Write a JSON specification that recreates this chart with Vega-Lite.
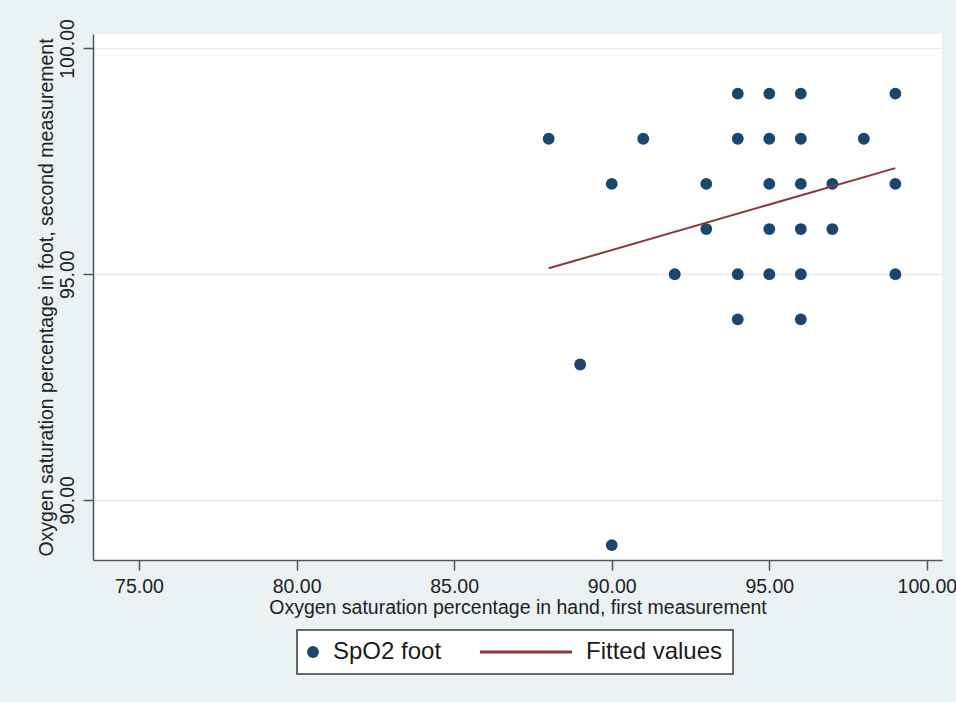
{
  "$schema": "https://vega.github.io/schema/vega-lite/v6.json",
  "width": 849,
  "height": 526,
  "autosize": {"type": "none"},
  "padding": {"left": 93, "top": 34, "right": 14, "bottom": 142},
  "background": "#eaf2f3",
  "view": {"fill": "white", "stroke": null},
  "config": {
    "font": "Liberation Sans",
    "axis": {
      "labelFont": "Liberation Sans",
      "titleFont": "Liberation Sans",
      "labelFontSize": 19.5,
      "titleFontSize": 19.5,
      "titleFontWeight": "normal",
      "labelColor": "#222222",
      "titleColor": "#222222",
      "domainColor": "#555555",
      "domainWidth": 1.5,
      "tickColor": "#555555",
      "tickWidth": 1.5,
      "tickSize": 10
    }
  },
  "datasets": {
    "points": [
      {"hand": 94, "foot": 99, "series": "SpO2 foot"},
      {"hand": 95, "foot": 99, "series": "SpO2 foot"},
      {"hand": 96, "foot": 99, "series": "SpO2 foot"},
      {"hand": 99, "foot": 99, "series": "SpO2 foot"},
      {"hand": 88, "foot": 98, "series": "SpO2 foot"},
      {"hand": 91, "foot": 98, "series": "SpO2 foot"},
      {"hand": 94, "foot": 98, "series": "SpO2 foot"},
      {"hand": 95, "foot": 98, "series": "SpO2 foot"},
      {"hand": 96, "foot": 98, "series": "SpO2 foot"},
      {"hand": 98, "foot": 98, "series": "SpO2 foot"},
      {"hand": 90, "foot": 97, "series": "SpO2 foot"},
      {"hand": 93, "foot": 97, "series": "SpO2 foot"},
      {"hand": 95, "foot": 97, "series": "SpO2 foot"},
      {"hand": 96, "foot": 97, "series": "SpO2 foot"},
      {"hand": 97, "foot": 97, "series": "SpO2 foot"},
      {"hand": 99, "foot": 97, "series": "SpO2 foot"},
      {"hand": 93, "foot": 96, "series": "SpO2 foot"},
      {"hand": 95, "foot": 96, "series": "SpO2 foot"},
      {"hand": 96, "foot": 96, "series": "SpO2 foot"},
      {"hand": 97, "foot": 96, "series": "SpO2 foot"},
      {"hand": 92, "foot": 95, "series": "SpO2 foot"},
      {"hand": 94, "foot": 95, "series": "SpO2 foot"},
      {"hand": 95, "foot": 95, "series": "SpO2 foot"},
      {"hand": 96, "foot": 95, "series": "SpO2 foot"},
      {"hand": 99, "foot": 95, "series": "SpO2 foot"},
      {"hand": 94, "foot": 94, "series": "SpO2 foot"},
      {"hand": 96, "foot": 94, "series": "SpO2 foot"},
      {"hand": 89, "foot": 93, "series": "SpO2 foot"},
      {"hand": 90, "foot": 89, "series": "SpO2 foot"}
    ],
    "fit": [
      {"hand": 88, "foot": 95.13, "series": "Fitted values"},
      {"hand": 99, "foot": 97.35, "series": "Fitted values"}
    ]
  },
  "encoding": {
    "x": {
      "field": "hand",
      "type": "quantitative",
      "scale": {"domain": [73.54, 100.48], "nice": false, "zero": false},
      "axis": {
        "title": "Oxygen saturation percentage in hand, first measurement",
        "values": [75, 80, 85, 90, 95, 100],
        "format": ".2f",
        "grid": false,
        "labelPadding": 7,
        "titlePadding": 3
      }
    },
    "y": {
      "field": "foot",
      "type": "quantitative",
      "scale": {"domain": [88.67, 100.32], "nice": false, "zero": false},
      "axis": {
        "title": "Oxygen saturation percentage in foot, second measurement",
        "values": [90, 95, 100],
        "format": ".2f",
        "grid": true,
        "gridColor": "#e2ebee",
        "gridWidth": 1.5,
        "labelAngle": -90,
        "labelAlign": "center",
        "labelBaseline": "alphabetic",
        "labelPadding": 10,
        "titlePadding": 1
      }
    },
    "color": {
      "field": "series",
      "type": "nominal",
      "scale": {"domain": ["SpO2 foot", "Fitted values"], "range": ["#1a476f", "#90353b"]},
      "legend": {
        "title": null,
        "orient": "none",
        "legendX": 204,
        "legendY": 596,
        "direction": "horizontal",
        "padding": 10,
        "strokeColor": "#3a3a3a",
        "fillColor": "white",
        "columnPadding": 32,
        "labelFont": "Liberation Sans",
        "labelFontSize": 24,
        "labelColor": "#1a1a1a",
        "labelLimit": 400,
        "symbolSize": 140,
        "encode": {
          "legend": {"update": {"strokeWidth": {"value": 1.5}}},
          "symbols": {
            "update": {
              "shape": {"signal": "datum.value === 'Fitted values' ? 'stroke' : 'circle'"},
              "size": {"signal": "datum.value === 'Fitted values' ? 8464 : 140"},
              "x": {"signal": "datum.value === 'Fitted values' ? 46 : 6"},
              "strokeWidth": {"signal": "datum.value === 'Fitted values' ? 3 : 0"},
              "fill": {"signal": "datum.value === 'Fitted values' ? 'transparent' : '#1a476f'"},
              "stroke": {"signal": "datum.value === 'Fitted values' ? '#90353b' : '#1a476f'"},
              "opacity": {"value": 1}
            }
          },
          "labels": {
            "update": {
              "x": {"signal": "datum.value === 'Fitted values' ? 106 : 26"}
            }
          }
        }
      }
    }
  },
  "layer": [
    {
      "data": {"name": "points"},
      "mark": {"type": "point", "filled": true, "opacity": 1, "size": 140, "strokeWidth": 0}
    },
    {
      "data": {"name": "fit"},
      "mark": {"type": "line", "strokeWidth": 2}
    }
  ]
}
